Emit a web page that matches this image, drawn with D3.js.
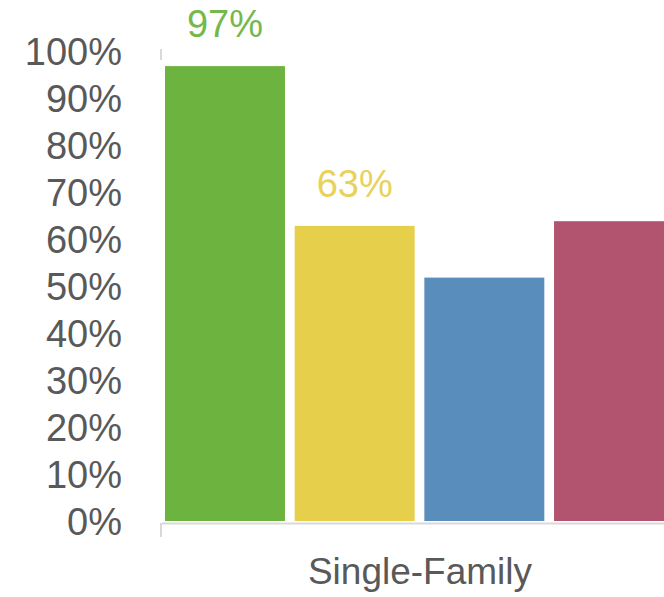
<!DOCTYPE html>
<html lang="en">
<head>
<meta charset="utf-8">
<title>Single-Family</title>
<script src="https://d3js.org/d3.v7.min.js"></script>
<style>
  body { margin: 0; background: #fff; }
  svg { display: block; }
  .axis text { font-family: "Liberation Sans", Arial, sans-serif; fill: #595959; }
</style>
</head>
<body>
<script>
// chart data
const categories = ["Single-Family"];
const series = ["s1", "s2", "s3", "s4"];
const values = [97, 63, 52, 64];
const barLabels = ["97%", "63%", "", ""];
const yTicks = [0, 10, 20, 30, 40, 50, 60, 70, 80, 90, 100];

const colors = ["#6cb33f", "#e6cf4a", "#588dbc", "#b25470"];
const labelColors = ["#75b84c", "#e8d25a", "#588dbc", "#b25470"];

const w = 664, h = 597;
const left = 161;

const svg = d3.select("body").append("svg")
  .attr("width", w)
  .attr("height", h);

const y = d3.scaleLinear()
  .domain([0, 100])
  .range([522, 52]);

const x0 = d3.scaleBand()
  .domain(categories)
  .range([left, left + 518]);

const x1 = d3.scaleBand()
  .domain(series)
  .range([4, 513])
  .paddingInner(0.075);

// y axis (labels only)
const yAxis = d3.axisLeft(y)
  .tickValues(yTicks)
  .tickFormat(d => d + "%")
  .tickSize(0)
  .tickPadding(0);

svg.append("g")
  .attr("class", "axis")
  .attr("transform", "translate(122,0)")
  .call(yAxis)
  .call(g => g.select(".domain").remove())
  .selectAll("text")
  .style("font-size", "38px")
  .attr("dy", "0.34em");

// small mark at top of value axis
svg.append("line")
  .attr("x1", left).attr("x2", left)
  .attr("y1", y(100) - 3).attr("y2", y(100) + 8)
  .attr("stroke", "#d9d9d9").attr("stroke-width", 2);

// bars
const group = svg.append("g")
  .selectAll("g")
  .data(categories)
  .join("g")
  .attr("transform", d => "translate(" + x0(d) + ",0)");

group.selectAll("rect")
  .data(series.map((s, i) => ({ s: s, v: values[i], i: i })))
  .join("rect")
  .attr("x", d => x1(d.s))
  .attr("y", d => y(d.v))
  .attr("width", x1.bandwidth())
  .attr("height", d => y(0) - y(d.v) - 1)
  .attr("fill", d => colors[d.i]);

group.selectAll("text.lbl")
  .data(series.map((s, i) => ({ s: s, v: values[i], i: i })).filter(d => barLabels[d.i] !== ""))
  .join("text")
  .attr("class", "lbl")
  .attr("x", d => x1(d.s) + x1.bandwidth() / 2)
  .attr("y", d => y(d.v) - 29)
  .attr("text-anchor", "middle")
  .style("font-family", "Liberation Sans, Arial, sans-serif")
  .style("font-size", "38px")
  .attr("fill", d => labelColors[d.i])
  .text(d => barLabels[d.i]);

// category axis
const xAxis = d3.axisBottom(x0).tickSize(0).tickPadding(35);

svg.append("g")
  .attr("class", "axis")
  .attr("transform", "translate(0," + (y(0) + 1) + ")")
  .call(xAxis)
  .call(g => g.select(".domain").attr("stroke", "#d9d9d9").attr("stroke-width", 2))
  .selectAll("text")
  .style("font-size", "37px");

svg.append("line")
  .attr("x1", left).attr("x2", left)
  .attr("y1", y(0) + 1).attr("y2", y(0) + 15)
  .attr("stroke", "#d9d9d9").attr("stroke-width", 2);
</script>
</body>
</html>
